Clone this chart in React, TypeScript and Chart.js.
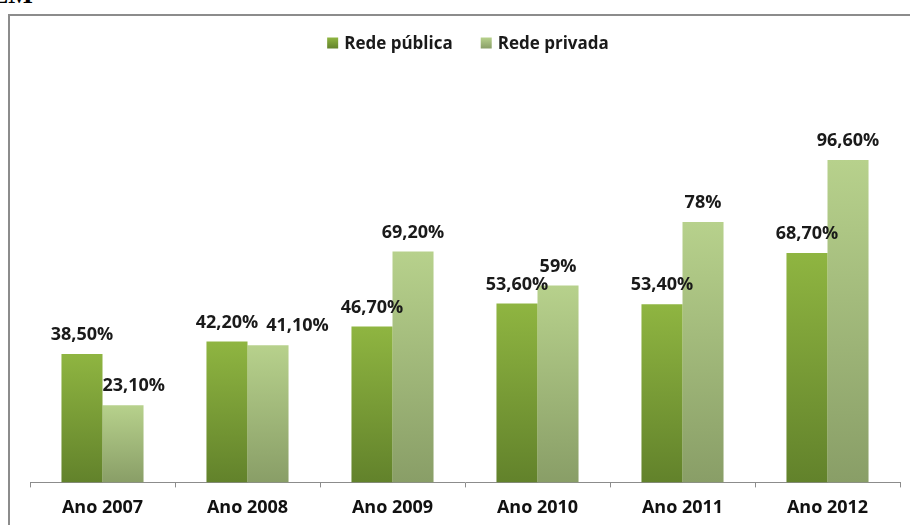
import React, { useEffect, useRef } from "react";
import { Chart, registerables } from "chart.js";

Chart.register(...registerables);

const categories = ["Ano 2007", "Ano 2008", "Ano 2009", "Ano 2010", "Ano 2011", "Ano 2012"];
const publicValues = [38.5, 42.2, 46.7, 53.6, 53.4, 68.7];
const privateValues = [23.1, 41.1, 69.2, 59, 78, 96.6];
const seriesNames = ["Rede pública", "Rede privada"];

const FONT = "'Open Sans', 'Noto Sans', sans-serif";
const PUB_TOP = "#8fb541";
const PUB_BOT = "#62822b";
const PRI_TOP = "#b7d18c";
const PRI_BOT = "#899e67";

function fmt(v: number): string {
  return (Number.isInteger(v) ? String(v) : v.toFixed(2).replace(".", ",")) + "%";
}

function gradientFor(top: string, bottom: string) {
  return (ctx: any) => {
    const chart = ctx.chart;
    const { chartArea, scales } = chart;
    if (!chartArea || ctx.type !== "data" || !scales.y) return top;
    const v = ctx.parsed ? ctx.parsed.y : ctx.raw;
    const yTop = scales.y.getPixelForValue(v);
    const yBase = scales.y.getPixelForValue(0);
    const g = chart.ctx.createLinearGradient(0, yTop, 0, yBase);
    g.addColorStop(0, top);
    g.addColorStop(1, bottom);
    return g;
  };
}

type Box = { x1: number; x2: number; y1: number; y2: number };
const overlaps = (a: Box, b: Box) => a.x1 < b.x2 && a.x2 > b.x1 && a.y1 < b.y2 && a.y2 > b.y1;

const labelPlugin = {
  id: "barLabels",
  afterDatasetsDraw(chart: any) {
    const c = chart.ctx as CanvasRenderingContext2D;
    c.save();
    c.font = `bold 18px ${FONT}`;
    c.fillStyle = "#1a1a1a";
    c.textAlign = "center";
    c.textBaseline = "middle";
    const m0 = chart.getDatasetMeta(0);
    const m1 = chart.getDatasetMeta(1);
    const H = 16;
    const gap = 19;
    for (let i = 0; i < categories.length; i++) {
      const b0 = m0.data[i].getProps(["x", "y", "width", "base"], true);
      const b1 = m1.data[i].getProps(["x", "y", "width", "base"], true);
      const t0 = fmt(publicValues[i]);
      const t1 = fmt(privateValues[i]);
      const w0 = c.measureText(t0).width;
      const w1 = c.measureText(t1).width;
      const x0 = b0.x;
      const y0 = b0.y - gap;
      const l0: Box = { x1: x0 - w0 / 2, x2: x0 + w0 / 2, y1: y0 - H / 2, y2: y0 + H / 2 };
      const bar0: Box = { x1: b0.x - b0.width / 2, x2: b0.x + b0.width / 2, y1: b0.y, y2: b0.base };
      let x1 = b1.x;
      const y1 = b1.y - gap;
      const mk = (x: number): Box => ({ x1: x - w1 / 2, x2: x + w1 / 2, y1: y1 - H / 2, y2: y1 + H / 2 });
      if (overlaps(mk(x1), bar0)) x1 = bar0.x2 + w1 / 2;
      if (overlaps(mk(x1), l0)) x1 = l0.x2 + 8 + w1 / 2;
      c.fillText(t0, x0, y0);
      c.fillText(t1, x1, y1);
    }
    c.restore();
  },
};

const legendPlugin = {
  id: "customLegend",
  afterDraw(chart: any) {
    const c = chart.ctx as CanvasRenderingContext2D;
    c.save();
    c.font = `bold 17px ${FONT}`;
    c.textBaseline = "middle";
    c.textAlign = "left";
    const box = 11;
    const textGap = 6;
    const itemGap = 28;
    const names = chart.data.datasets.map((d: any) => d.label as string);
    const widths = names.map((n: string) => c.measureText(n).width);
    const total = widths.reduce((s: number, w: number) => s + box + textGap + w, 0) + itemGap * (names.length - 1);
    const ca = chart.chartArea;
    let x = (ca.left + ca.right) / 2 + 3 - total / 2;
    const y = 43;
    const cols = [
      [PUB_TOP, PUB_BOT],
      [PRI_TOP, PRI_BOT],
    ];
    names.forEach((n: string, i: number) => {
      const g = c.createLinearGradient(0, y - box / 2, 0, y + box / 2);
      g.addColorStop(0, cols[i][0]);
      g.addColorStop(1, cols[i][1]);
      c.fillStyle = g;
      c.fillRect(x, y - box / 2, box, box);
      c.fillStyle = "#1a1a1a";
      c.fillText(n, x + box + textGap, y + 1);
      x += box + textGap + widths[i] + itemGap;
    });
    c.restore();
  },
};

export default function App() {
  const ref = useRef<HTMLCanvasElement | null>(null);
  useEffect(() => {
    if (!ref.current) return;
    const chart = new Chart(ref.current, {
      type: "bar",
      data: {
        labels: categories,
        datasets: [
          {
            label: seriesNames[0],
            data: publicValues,
            backgroundColor: gradientFor(PUB_TOP, PUB_BOT),
            borderWidth: 0,
            categoryPercentage: 0.566,
            barPercentage: 1,
          },
          {
            label: seriesNames[1],
            data: privateValues,
            backgroundColor: gradientFor(PRI_TOP, PRI_BOT),
            borderWidth: 0,
            categoryPercentage: 0.566,
            barPercentage: 1,
          },
        ],
      },
      options: {
        responsive: false,
        animation: false,
        devicePixelRatio: 1,
        layout: { padding: { top: 148.6, left: 30, right: 10, bottom: 6 } },
        plugins: {
          legend: { display: false },
          tooltip: { enabled: false },
        },
        scales: {
          x: {
            grid: { drawOnChartArea: false, drawTicks: true, tickLength: 5, color: "#8c8c8c", offset: true },
            border: { color: "#8c8c8c", width: 1 },
            ticks: { font: { family: FONT, size: 18, weight: "bold" }, color: "#111111", padding: 10 },
          },
          y: { display: false, min: 0, max: 100 },
        },
      },
      plugins: [labelPlugin, legendPlugin],
    });
    return () => chart.destroy();
  }, []);

  return (
    <div style={{ position: "fixed", left: 0, top: 0, width: 910, height: 525, overflow: "hidden", background: "#ffffff" }}>
      <div
        style={{
          position: "absolute",
          left: -9,
          top: -18,
          fontFamily: "'Liberation Serif', 'DejaVu Serif', serif",
          fontWeight: "bold",
          fontSize: 26,
          lineHeight: "26px",
          color: "#000",
        }}
      >
        EM
      </div>
      <div
        style={{
          position: "absolute",
          left: 8,
          top: 14,
          width: 1000,
          height: 600,
          borderTop: "2px solid #8c8c8c",
          borderLeft: "2px solid #8c8c8c",
        }}
      />
      <canvas ref={ref} width={910} height={535} style={{ position: "absolute", left: 0, top: 0, width: 910, height: 535 }} />
    </div>
  );
}
